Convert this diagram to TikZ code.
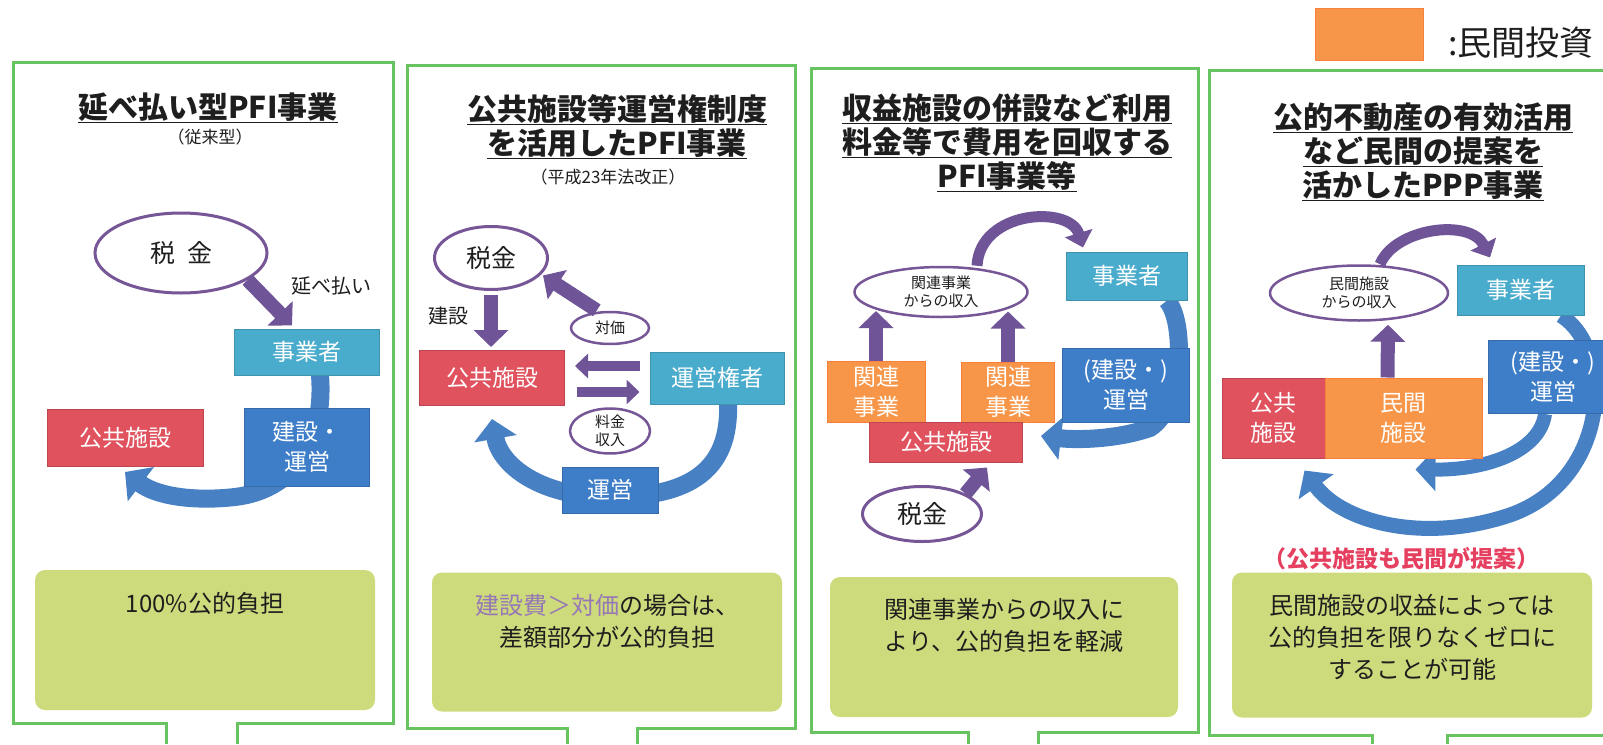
\documentclass[tikz,border=0pt]{standalone}
\usepackage{fontspec}
\setmainfont{Noto Sans CJK JP}
\usetikzlibrary{shapes.geometric,arrows.meta,backgrounds}

\definecolor{framegreen}{RGB}{104,196,96}
\definecolor{memogreen}{RGB}{206,219,124}
\definecolor{pubred}{RGB}{224,82,94}
\definecolor{bizcyan}{RGB}{74,172,204}
\definecolor{bldblue}{RGB}{62,126,200}
\definecolor{privorange}{RGB}{247,150,72}
\definecolor{arrowpurple}{RGB}{112,84,152}
\definecolor{ovalpurple}{RGB}{118,86,150}
\definecolor{sweepblue}{RGB}{72,128,196}
\definecolor{notepurple}{RGB}{150,120,182}
\definecolor{alertred}{RGB}{230,64,96}
\definecolor{inkgray}{RGB}{30,30,30}

\newcommand{\ulbar}[1]{\setbox0\hbox{#1}\rlap{\rule[-5pt]{\wd0}{1.8pt}}\box0}

\tikzset{
  panelframe/.style={draw=framegreen, line width=3pt},
  headtext/.style={inner sep=0pt, align=center, text=inkgray, font=\fontsize{30}{34}\selectfont\bfseries},
  subtext/.style={inner sep=0pt, text=inkgray, font=\fontsize{17}{20}\selectfont},
  boxbase/.style={rectangle, inner sep=0pt, align=center, text=white, line width=1pt, font=\fontsize{23}{30}\selectfont},
  pubbox/.style={boxbase, fill=pubred, draw=pubred!85!black},
  bizbox/.style={boxbase, fill=bizcyan, draw=bizcyan!85!black},
  bldbox/.style={boxbase, fill=bldblue, draw=bldblue!85!black},
  privbox/.style={boxbase, fill=privorange, draw=privorange!85!red},
  taxoval/.style={ellipse, draw=ovalpurple, line width=3pt, fill=white, inner sep=0pt, text=inkgray, font=\fontsize{25}{30}\selectfont},
  tagoval/.style={ellipse, draw=ovalpurple, line width=2.5pt, fill=white, inner sep=0pt, align=center, text=inkgray, font=\fontsize{15}{18}\selectfont},
  cuetext/.style={inner sep=0pt, text=inkgray, font=\fontsize{20}{24}\selectfont},
  alerttext/.style={inner sep=0pt, text=alertred, font=\fontsize{23}{26}\selectfont\bfseries},
  keytext/.style={inner sep=0pt, text=inkgray, font=\fontsize{34}{38}\selectfont},
  memobox/.style={fill=memogreen, rounded corners=10pt, inner sep=0pt},
  memotext/.style={inner sep=0pt, anchor=north, align=center, text=inkgray, font=\fontsize{24}{32}\selectfont},
  fatarrow/.style={draw=arrowpurple, line width=14pt, -{Triangle[length=17pt,width=34pt]}},
  slimarrow/.style={draw=arrowpurple, line width=10pt, -{Triangle[length=13pt,width=24pt]}},
  arcarrow/.style={draw=arrowpurple, line width=11pt, -{Triangle[length=15pt,width=28pt]}},
  sweeparrow/.style={draw=sweepblue, line width=18pt, -{Triangle[length=20pt,width=42pt]}}
}

\begin{document}
\begin{tikzpicture}[x=1pt, y=-1pt]
  \useasboundingbox (0,0) rectangle (1603,744);

  \draw[panelframe] (166,744) |- (13,723) |- (393,62) |- (237,723) -- (237,744);
  \draw[panelframe] (567,744) |- (407,728) |- (795,65) |- (637,728) -- (637,744);
  \draw[panelframe] (968,744) |- (811,732) |- (1198,68) |- (1038,732) -- (1038,744);
  \draw[panelframe] (1372,744) |- (1209,735) |- (1615,70);
  \draw[panelframe] (1615,735) -- (1447,735) -- (1447,744);

  \node[privbox, minimum width=108pt, minimum height=52pt] (key) at (1369,34) {};
  \node[keytext, anchor=west] (keylabel) at (1448,43) {:民間投資};

  \node[headtext] (head1) at (208,108) {\ulbar{延べ払い型PFI事業}};
  \node[subtext] (sub1) at (210,137) {（従来型）};
  \node[taxoval, minimum width=172pt, minimum height=80pt] (tax1) at (181,253) {税\hspace{12pt}金};
  \node[cuetext] (cue1) at (331,286) {延べ払い};
  \node[bizbox, minimum width=145pt, minimum height=46pt] (biz1) at (307,352) {事業者};
  \node[bldbox, minimum width=125pt, minimum height=78pt] (bld1) at (307,447) {建設・\\運営};
  \node[pubbox, minimum width=156pt, minimum height=57pt] (pub1) at (125,438) {公共施設};
  \node[memobox, minimum width=340pt, minimum height=140pt] (memo1) at (205,640) {};
  \node[memotext] (memotext1) at ([yshift=-22pt]memo1.north) {100\%公的負担};

  \draw[fatarrow] (tax1.-22) -- ([xshift=-15pt,yshift=3pt]biz1.north);

  \node[headtext] (head2) at (617,127) {\ulbar{公共施設等運営権制度}\\\ulbar{を活用したPFI事業}};
  \node[subtext] (sub2) at (608,177) {（平成23年法改正）};
  \node[taxoval, minimum width=113pt, minimum height=63pt] (tax2) at (491,258) {税金};
  \node[cuetext] (cue2) at (448,316) {建設};
  \node[tagoval, minimum width=78pt, minimum height=32pt] (price2) at (610,328) {対価};
  \node[pubbox, minimum width=145pt, minimum height=55pt] (pub2) at (492,378) {公共施設};
  \node[bizbox, minimum width=134pt, minimum height=52pt] (conc2) at (717,378) {運営権者};
  \node[tagoval, minimum width=80pt, minimum height=42pt] (fee2) at (610,431) {料金\\収入};
  \node[bldbox, minimum width=96pt, minimum height=46pt] (run2) at (610,490) {運営};
  \node[memobox, minimum width=350pt, minimum height=139pt] (memo2) at (607,642) {};
  \node[memotext] (memotext2) at ([yshift=-22pt]memo2.north) {\textcolor{notepurple}{建設費＞対価}の場合は、\\差額部分が公的負担};

  \draw[fatarrow, shorten <=4pt, shorten >=3pt] (tax2.south) -- (tax2.south |- pub2.north);
  \draw[fatarrow, shorten <=2pt, shorten >=2pt] (price2.125) -- (tax2.-18);
  \draw[slimarrow, shorten <=10pt, shorten >=10pt] ([yshift=12pt]conc2.west) -- ([yshift=12pt]pub2.east);
  \draw[slimarrow, shorten <=12pt, shorten >=10pt] ([yshift=-14pt]pub2.east) -- ([yshift=-14pt]conc2.west);

  \node[headtext] (head3) at (1007,143) {\ulbar{収益施設の併設など利用}\\\ulbar{料金等で費用を回収する}\\\ulbar{PFI事業等}};
  \node[tagoval, minimum width=173pt, minimum height=50pt] (inc3) at (941,292) {関連事業\\からの収入};
  \node[bizbox, minimum width=121pt, minimum height=48pt] (biz3) at (1127,276) {事業者};
  \node[privbox, minimum width=98pt, minimum height=61pt] (rel3a) at (876,392) {関連\\事業};
  \node[privbox, minimum width=93pt, minimum height=60pt] (rel3b) at (1008,392) {関連\\事業};
  \node[pubbox, minimum width=153pt, minimum height=40pt] (pub3) at (946,442) {公共施設};
  \node[bldbox, minimum width=127pt, minimum height=74pt] (bld3) at (1126,385) {(建設・)\\運営};
  \node[taxoval, minimum width=119pt, minimum height=55pt] (tax3) at (922,514) {税金};
  \node[memobox, minimum width=348pt, minimum height=140pt] (memo3) at (1004,647) {};
  \node[memotext] (memotext3) at ([yshift=-21pt]memo3.north) {関連事業からの収入に\\より、公的負担を軽減};

  \draw[fatarrow] (rel3a.north) -- ([yshift=50pt]rel3a.north);
  \draw[fatarrow] (rel3b.north) -- ([yshift=50pt]rel3b.north);
  \draw[arcarrow] ([xshift=36pt]inc3.north) .. controls (980,210) and (1070,205) .. ([xshift=-44pt,yshift=4pt]biz3.north);
  \draw[fatarrow] (tax3.25) -- ([xshift=41pt,yshift=-5pt]pub3.south);

  \node[headtext] (head4) at (1423,152) {\ulbar{公的不動産の有効活用}\\\ulbar{など民間の提案を}\\\ulbar{活かしたPPP事業}};
  \node[tagoval, minimum width=178pt, minimum height=55pt] (inc4) at (1359,293) {民間施設\\からの収入};
  \node[bizbox, minimum width=127pt, minimum height=50pt] (biz4) at (1521,290) {事業者};
  \node[pubbox, minimum width=103pt, minimum height=80pt] (pub4) at (1273.5,418) {公共\\施設};
  \node[privbox, minimum width=157pt, minimum height=80pt] (priv4) at (1403.5,418) {民間\\施設};
  \node[bldbox, minimum width=130pt, minimum height=73pt] (bld4) at (1553,377) {(建設・)\\運営};
  \node[alerttext] (alert4) at (1401,559) {（公共施設も民間が提案）};
  \node[memobox, minimum width=360pt, minimum height=145pt] (memo4) at (1412,645) {};
  \node[memotext] (memotext4) at ([yshift=-22pt]memo4.north) {民間施設の収益によっては\\公的負担を限りなくゼロに\\することが可能};

  \draw[fatarrow] ([xshift=-16pt]priv4.north) -- ([xshift=29pt,yshift=-3pt]inc4.south);
  \draw[arcarrow] ([xshift=21pt]inc4.north) .. controls (1395,228) and (1470,218) .. ([xshift=-31pt,yshift=7pt]biz4.north);

  \begin{pgfonlayer}{background}
    \draw[sweeparrow] ([xshift=13pt]biz1.south) .. controls (325,440) and (295,490) .. (235,497) .. controls (190,502) and (155,495) .. ([yshift=-5pt]pub1.south);
    \draw[sweeparrow] ([xshift=11pt]conc2.south) .. controls (730,470) and (690,497) .. (610,497) .. controls (540,497) and (500,465) .. ([yshift=-13pt]pub2.south);
    \draw[sweeparrow] ([xshift=40pt]biz3.south) .. controls (1185,320) and (1185,405) .. (1150,428) .. controls (1115,440) and (1075,440) .. ([xshift=18pt,yshift=6pt]pub3.east);
    \draw[sweeparrow, line width=15pt] ([xshift=40pt]biz4.south) .. controls (1615,350) and (1610,480) .. (1510,515) .. controls (1420,545) and (1340,520) .. ([xshift=31pt,yshift=-12pt]pub4.south);
    \draw[sweeparrow, line width=14pt] ([xshift=-8pt]bld4.south) .. controls (1540,450) and (1490,470) .. ([xshift=12pt,yshift=-11pt]priv4.south);
  \end{pgfonlayer}
\end{tikzpicture}
\end{document}
